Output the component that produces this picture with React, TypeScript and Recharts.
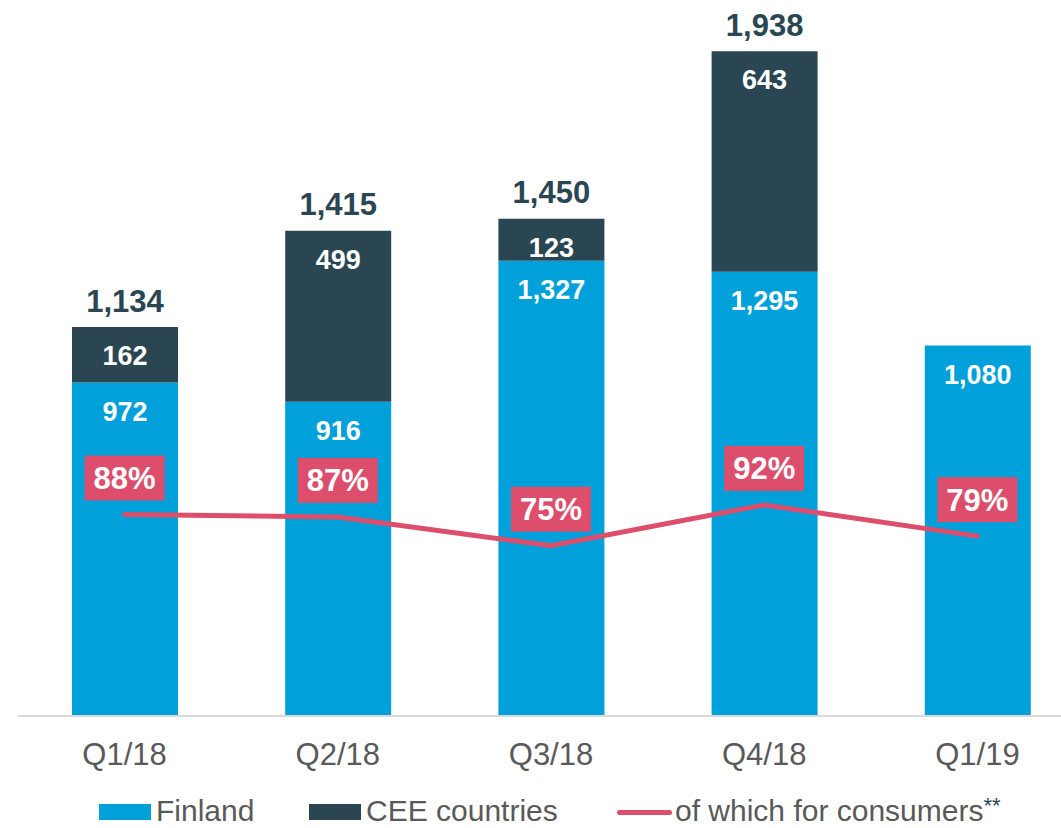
import React from "react";
import {
  ComposedChart,
  Bar,
  Line,
  XAxis,
  YAxis,
  LabelList,
} from "recharts";

const quarters = ["Q1/18", "Q2/18", "Q3/18", "Q4/18", "Q1/19"];
const finland = [972, 916, 1327, 1295, 1080];
const cee: (number | null)[] = [162, 499, 123, 643, null];
const consumerShare = [88, 87, 75, 92, 79];

const BLUE = "#00A0DA";
const DARK = "#2A4653";
const PINK = "#DC4E6C";
const GREY = "#595959";
const FONT = "'Liberation Sans', Arial, sans-serif";

const data = quarters.map((q, i) => ({
  quarter: q,
  finland: finland[i],
  cee: cee[i],
  total: finland[i] + (cee[i] ?? 0),
  share: consumerShare[i],
}));

const fmt = (v: number) => v.toLocaleString("en-US");

interface LabelProps {
  x?: number;
  y?: number;
  width?: number;
  value?: number | null;
  index?: number;
}

const InnerLabel = ({ x = 0, y = 0, width = 0, value }: LabelProps) => {
  if (value == null) return null;
  return (
    <text
      x={x + width / 2}
      y={y + 29}
      textAnchor="middle"
      dominantBaseline="central"
      fill="#ffffff"
      fontSize={27}
      fontWeight="bold"
      fontFamily={FONT}
    >
      {fmt(value)}
    </text>
  );
};

const TotalLabel = ({ x = 0, y = 0, width = 0, value, index = 0 }: LabelProps) => {
  if (value == null) return null;
  return (
    <text
      x={x + width / 2}
      y={y - 26}
      textAnchor="middle"
      dominantBaseline="central"
      fill={DARK}
      fontSize={31}
      fontWeight="bold"
      fontFamily={FONT}
    >
      {fmt(data[index].total)}
    </text>
  );
};

const ShareLabel = ({ x = 0, y = 0, value }: LabelProps) => {
  if (value == null) return null;
  return (
    <g>
      <rect x={x - 40} y={y - 59} width={80} height={45} fill={PINK} />
      <text
        x={x}
        y={y - 36}
        textAnchor="middle"
        dominantBaseline="central"
        fill="#ffffff"
        fontSize={31}
        fontWeight="bold"
        fontFamily={FONT}
      >
        {value}%
      </text>
    </g>
  );
};

export default function App() {
  return (
    <div
      style={{
        position: "absolute",
        left: 0,
        top: 0,
        width: 1061,
        height: 828,
        overflow: "hidden",
        background: "#ffffff",
        fontFamily: FONT,
      }}
    >
      <ComposedChart
        width={1090}
        height={828}
        data={data}
        margin={{ top: 30, right: 6, bottom: 52, left: 18 }}
        barCategoryGap="25%"
      >
        <XAxis
          dataKey="quarter"
          tickLine={false}
          axisLine={{ stroke: "#D9D9D9", strokeWidth: 2 }}
          tickMargin={21}
          height={60}
          tick={{ fontSize: 31, fill: GREY, fontFamily: FONT }}
        />
        <YAxis yAxisId="left" domain={[0, 2000]} hide />
        <YAxis yAxisId="right" orientation="right" domain={[4, 290]} hide />
        <Bar
          yAxisId="left"
          dataKey="finland"
          stackId="a"
          fill={BLUE}
          barSize={106}
          isAnimationActive={false}
        >
          <LabelList dataKey="finland" content={<InnerLabel />} />
        </Bar>
        <Bar
          yAxisId="left"
          dataKey="cee"
          stackId="a"
          fill={DARK}
          barSize={106}
          isAnimationActive={false}
        >
          <LabelList dataKey="cee" content={<InnerLabel />} />
          <LabelList dataKey="cee" content={<TotalLabel />} />
        </Bar>
        <Line
          yAxisId="right"
          dataKey="share"
          stroke={PINK}
          strokeWidth={5}
          strokeLinecap="round"
          dot={false}
          activeDot={false}
          isAnimationActive={false}
        >
          <LabelList dataKey="share" content={<ShareLabel />} />
        </Line>
      </ComposedChart>

      <div
        style={{
          position: "absolute",
          top: 796,
          left: 0,
          width: 1061,
          height: 30,
          fontSize: 30,
          color: GREY,
          lineHeight: "30px",
        }}
      >
        <div style={{ position: "absolute", left: 99, top: 8, width: 52, height: 16, background: BLUE }} />
        <span style={{ position: "absolute", left: 156, top: 0 }}>Finland</span>
        <div style={{ position: "absolute", left: 309, top: 8, width: 52, height: 16, background: DARK }} />
        <span style={{ position: "absolute", left: 366, top: 0 }}>CEE countries</span>
        <div
          style={{
            position: "absolute",
            left: 617,
            top: 14,
            width: 55,
            height: 5,
            borderRadius: 3,
            background: PINK,
          }}
        />
        <span style={{ position: "absolute", left: 675, top: 0, whiteSpace: "nowrap" }}>
          of which for consumers
          <sup style={{ color: DARK, fontSize: 22, verticalAlign: "top", lineHeight: "20px" }}>**</sup>
        </span>
      </div>
    </div>
  );
}
